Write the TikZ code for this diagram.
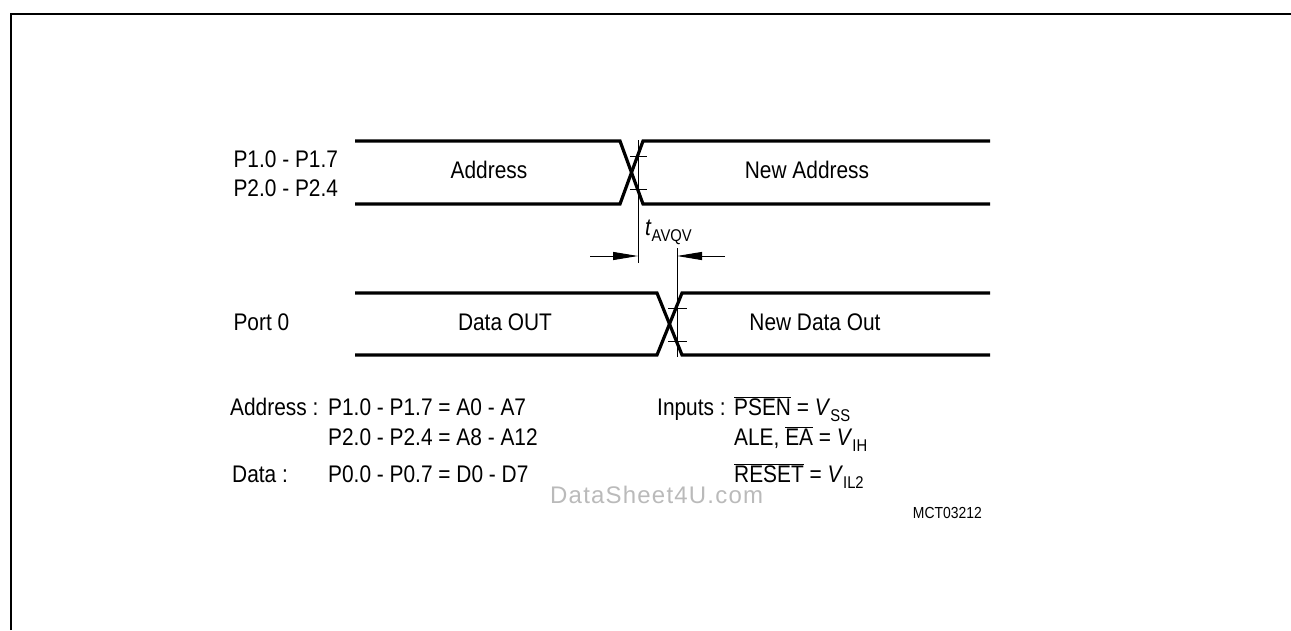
\documentclass[tikz,border=0pt]{standalone}
\usepackage{fontspec}
\setmainfont{Liberation Sans}[FakeStretch=0.87]
\newfontfamily\wmfont{Liberation Sans}[LetterSpace=5]
\usepackage{tikz}
\usetikzlibrary{arrows.meta}

\newcommand{\ovl}[1]{$\overline{\hbox{#1}}$}
\newcommand{\sigsub}[2]{\textit{#1}\raisebox{-6pt}{\fontsize{17}{17}\selectfont #2}}

\tikzset{
  bus/.style={line width=3.2pt},
  tick/.style={line width=0.9pt},
  arr/.style={line width=0.9pt, -{Triangle[length=25pt,width=8pt]}},
}

\begin{document}
\begin{tikzpicture}[x=1pt,y=-1pt,font=\fontsize{24}{28}\selectfont]
  \useasboundingbox (0,0) rectangle (1291,630);
  \draw[line width=2.5pt] (11,630) -- (11,14) -- (1291,14);

  \node[anchor=base west] (P1) at (230,167) {P1.0 - P1.7};
  \node[anchor=base west] (P2) at (230,196) {P2.0 - P2.4};
  \node[anchor=base west] (P0) at (230,330) {Port 0};
  \node[anchor=base] (A) at (489,178) {Address};
  \node[anchor=base] (NA) at (807,178) {New Address};
  \node[anchor=base] (D) at (505,330) {Data OUT};
  \node[anchor=base] (ND) at (815,330) {New Data Out};

  \draw[bus] (355,141) -- (620,141) -- (643,204) -- (990,204);
  \draw[bus] (355,204) -- (620,204) -- (643,141) -- (990,141);
  \draw[bus] (355,293) -- (657,293) -- (682,355) -- (990,355);
  \draw[bus] (355,355) -- (657,355) -- (682,293) -- (990,293);

  \draw[tick] (630,156) -- (647,156);
  \draw[tick] (630,189) -- (647,189);
  \draw[tick] (668,308) -- (687,308);
  \draw[tick] (668,341) -- (687,341);

  \coordinate (T1) at (638,140);
  \coordinate (T2) at (638,263);
  \coordinate (T3) at (677,248);
  \coordinate (T4) at (677,357);
  \coordinate (L) at (590,256);
  \coordinate (R) at (725,256);
  \draw[tick] (T1) -- (T2);
  \draw[tick] (T3) -- (T4);
  \draw[arr] (L) -- (L -| T1);
  \draw[arr] (R) -- (R -| T3);
  \node[anchor=base west, inner sep=0pt] (TAV) at (645,235) {\sigsub{t}{AVQV}};

  \node[anchor=base west, inner sep=0pt] (AD) at (230,415) {Address :};
  \node[anchor=base west, inner sep=0pt] (AD1) at (328,415) {P1.0 - P1.7 = A0 - A7};
  \node[anchor=base west, inner sep=0pt] (AD2) at (328,445) {P2.0 - P2.4 = A8 - A12};
  \node[anchor=base west, inner sep=0pt] (DA) at (232,482) {Data :};
  \node[anchor=base west, inner sep=0pt] (DA1) at (328,482) {P0.0 - P0.7 = D0 - D7};

  \node[anchor=base west, inner sep=0pt] (IN) at (657,415) {Inputs :};
  \node[anchor=base west, inner sep=0pt] (IN1) at (734,415) {\ovl{PSEN} = \sigsub{V}{SS}};
  \node[anchor=base west, inner sep=0pt] (IN2) at (734,445) {ALE, \ovl{EA} = \sigsub{V}{IH}};
  \node[anchor=base west, inner sep=0pt] (IN3) at (734,482) {\ovl{RESET} = \sigsub{V}{IL2}};

  \node[anchor=base west, inner sep=0pt, text=black!27] (WM) at (550,503) {\wmfont\fontsize{24}{28}\selectfont DataSheet4U.com};
  \node[anchor=base east, inner sep=0pt, font=\fontsize{16}{18}\selectfont] (ID) at (982,518) {MCT03212};
\end{tikzpicture}
\end{document}
